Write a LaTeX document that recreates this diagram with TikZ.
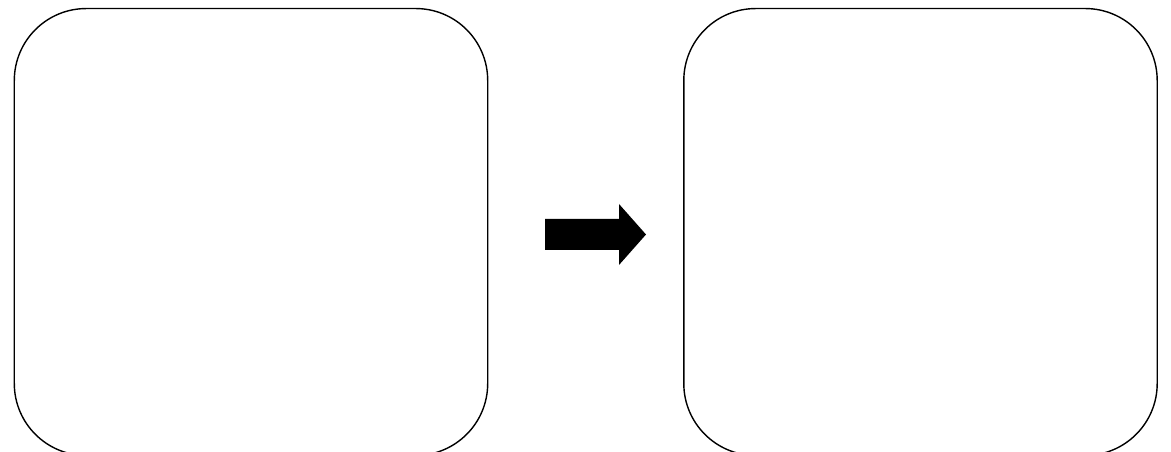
\documentclass[tikz,border=0pt]{standalone}
\usepackage{tikz}
\usetikzlibrary{positioning}

\begin{document}
\begin{tikzpicture}[
    x=0.02cm, y=0.02cm,
    panel/.style={
      draw,
      line width=0.8pt,
      rounded corners=1.44cm,
      minimum width=9.47cm,
      minimum height=8.94cm,
      inner sep=0pt
    }
  ]
    \useasboundingbox (0,0) rectangle (1171,452);

    \node[panel] (before) at (251,220) {};
    \node[panel] (after) at (920.5,220) {};

    % block arrow between the two panels
    \coordinate (arrow-tail) at (545,217.5);
    \fill (arrow-tail) ++(0,15.5) -- ++(74,0) -- ++(0,15) -- ++(27,-30.5)
      -- ++(-27,-30.5) -- ++(0,15) -- ++(-74,0) -- cycle;
\end{tikzpicture}
\end{document}
